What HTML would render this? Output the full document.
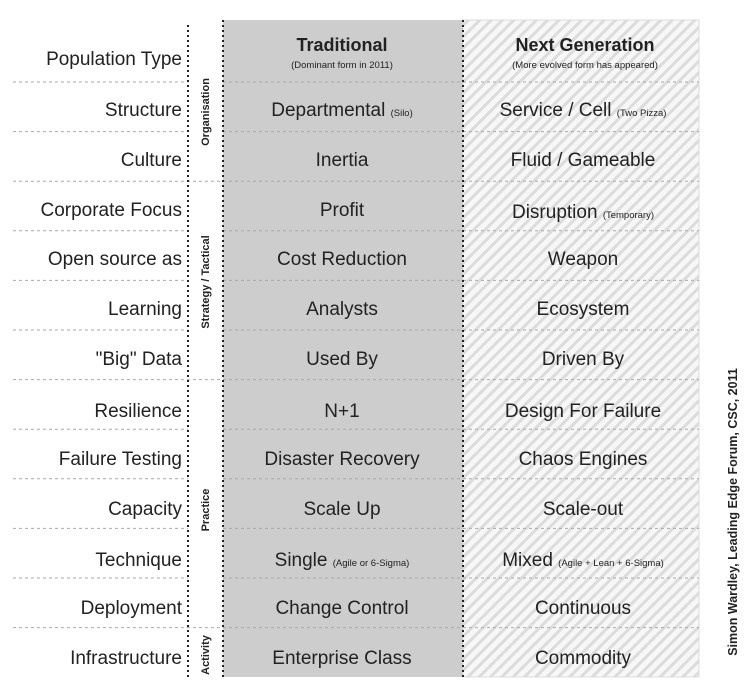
<!DOCTYPE html>
<html><head><meta charset="utf-8"><style>
html,body{margin:0;padding:0;background:#fff;}
svg{display:block;font-family:"Liberation Sans",Arial,sans-serif;}
</style></head><body>
<svg width="748" height="700" viewBox="0 0 748 700" xmlns="http://www.w3.org/2000/svg">
<defs>
<pattern id="h" width="8" height="8" patternUnits="userSpaceOnUse" patternTransform="rotate(45)">
<rect width="8" height="8" fill="#f7f7f7"/>
<rect x="0" y="0" width="3" height="8" fill="#dcdcdc"/>
</pattern>
</defs>
<rect x="223" y="20" width="240" height="657" fill="#cdcdcd"/>
<rect x="463" y="20" width="236" height="657" fill="url(#h)" stroke="#dcdcdc" stroke-width="1"/>
<g stroke="#aaa" stroke-width="1" stroke-dasharray="3,3">
<line x1="13" y1="82" x2="188" y2="82"/><line x1="223" y1="82" x2="699" y2="82"/>
<line x1="13" y1="131.6" x2="188" y2="131.6"/><line x1="223" y1="131.6" x2="699" y2="131.6"/>
<line x1="13" y1="181.2" x2="699" y2="181.2"/>
<line x1="13" y1="230.8" x2="188" y2="230.8"/><line x1="223" y1="230.8" x2="699" y2="230.8"/>
<line x1="13" y1="280.4" x2="188" y2="280.4"/><line x1="223" y1="280.4" x2="699" y2="280.4"/>
<line x1="13" y1="330" x2="188" y2="330"/><line x1="223" y1="330" x2="699" y2="330"/>
<line x1="13" y1="379.6" x2="699" y2="379.6"/>
<line x1="13" y1="429.2" x2="188" y2="429.2"/><line x1="223" y1="429.2" x2="699" y2="429.2"/>
<line x1="13" y1="478.8" x2="188" y2="478.8"/><line x1="223" y1="478.8" x2="699" y2="478.8"/>
<line x1="13" y1="528.4" x2="188" y2="528.4"/><line x1="223" y1="528.4" x2="699" y2="528.4"/>
<line x1="13" y1="578" x2="188" y2="578"/><line x1="223" y1="578" x2="699" y2="578"/>
<line x1="13" y1="627.6" x2="699" y2="627.6"/>
</g>
<g stroke="#222" stroke-width="2" stroke-dasharray="2,3">
<line x1="188" y1="25" x2="188" y2="677"/>
<line x1="223" y1="20" x2="223" y2="677"/>
<line x1="463" y1="20" x2="463" y2="677"/>
</g>
<g font-size="19" fill="#222" text-anchor="end">
<text x="182" y="65">Population Type</text>
<text x="182" y="116">Structure</text>
<text x="182" y="166">Culture</text>
<text x="182" y="216">Corporate Focus</text>
<text x="182" y="265">Open source as</text>
<text x="182" y="315">Learning</text>
<text x="182" y="365">"Big" Data</text>
<text x="182" y="417">Resilience</text>
<text x="182" y="465">Failure Testing</text>
<text x="182" y="515">Capacity</text>
<text x="182" y="566">Technique</text>
<text x="182" y="614">Deployment</text>
<text x="182" y="664">Infrastructure</text>
</g>
<g font-size="11" font-weight="bold" fill="#222" text-anchor="middle">
<text transform="translate(209,112) rotate(-90)">Organisation</text>
<text transform="translate(209,282) rotate(-90)">Strategy / Tactical</text>
<text transform="translate(209,510) rotate(-90)">Practice</text>
<text transform="translate(209,655) rotate(-90)">Activity</text>
</g>
<text transform="translate(737,512) rotate(-90)" font-size="12.5" font-weight="bold" fill="#222" text-anchor="middle">Simon Wardley, Leading Edge Forum, CSC, 2011</text>
<g fill="#222" text-anchor="middle">
<text x="342" y="51" font-size="18" font-weight="bold">Traditional</text>
<text x="342" y="68" font-size="9.5">(Dominant form in 2011)</text>
<text x="585" y="51" font-size="18" font-weight="bold">Next Generation</text>
<text x="585" y="68" font-size="9.5">(More evolved form has appeared)</text>
</g>
<g font-size="19" fill="#222" text-anchor="middle">
<text x="342" y="116">Departmental <tspan font-size="9.5">(Silo)</tspan></text>
<text x="342" y="166">Inertia</text>
<text x="342" y="216">Profit</text>
<text x="342" y="265">Cost Reduction</text>
<text x="342" y="315">Analysts</text>
<text x="342" y="365">Used By</text>
<text x="342" y="417">N+1</text>
<text x="342" y="465">Disaster Recovery</text>
<text x="342" y="515">Scale Up</text>
<text x="342" y="566">Single <tspan font-size="9.5">(Agile or 6-Sigma)</tspan></text>
<text x="342" y="614">Change Control</text>
<text x="342" y="664">Enterprise Class</text>
<text x="583" y="116">Service / Cell <tspan font-size="9.5">(Two Pizza)</tspan></text>
<text x="583" y="166">Fluid / Gameable</text>
<text x="583" y="218">Disruption <tspan font-size="9.5">(Temporary)</tspan></text>
<text x="583" y="265">Weapon</text>
<text x="583" y="315">Ecosystem</text>
<text x="583" y="365">Driven By</text>
<text x="583" y="417">Design For Failure</text>
<text x="583" y="465">Chaos Engines</text>
<text x="583" y="515">Scale-out</text>
<text x="583" y="566">Mixed <tspan font-size="9.5">(Agile + Lean + 6-Sigma)</tspan></text>
<text x="583" y="614">Continuous</text>
<text x="583" y="664">Commodity</text>
</g>
</svg>
</body></html>
